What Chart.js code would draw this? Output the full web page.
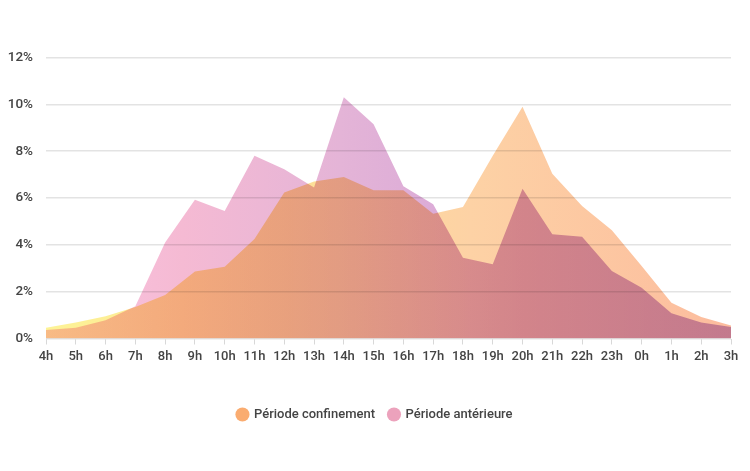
<!DOCTYPE html>
<html>
<head>
<meta charset="utf-8">
<script src="https://cdn.jsdelivr.net/npm/chart.js@4"></script>
<style>
html,body{margin:0;padding:0;background:#fff;}
#wrap{width:750px;height:471px;position:relative;}
</style>
</head>
<body>
<div id="wrap"><canvas id="c" width="750" height="471"></canvas></div>
<script>
const hours = ["4h","5h","6h","7h","8h","9h","10h","11h","12h","13h","14h","15h","16h","17h","18h","19h","20h","21h","22h","23h","0h","1h","2h","3h"];
const confinement = [0.46,0.68,0.95,1.35,1.86,2.86,3.06,4.25,6.23,6.7,6.9,6.33,6.33,5.33,5.62,7.8,9.9,7.04,5.66,4.62,3.1,1.53,0.92,0.56];
const anterieure = [0.36,0.46,0.78,1.38,4.1,5.92,5.45,7.8,7.23,6.45,10.3,9.15,6.5,5.73,3.45,3.17,6.4,4.45,4.35,2.88,2.17,1.08,0.68,0.49];
const yTicks = [0,2,4,6,8,10,12];
const seriesNames = ["Période confinement","Période antérieure"];

function gradient(stops){
  return function(ctx){
    const chart = ctx.chart;
    const a = chart.chartArea;
    if(!a) return 'rgba(0,0,0,0)';
    const g = chart.ctx.createLinearGradient(a.left,0,a.right,0);
    stops.forEach(s=>g.addColorStop(s[0],s[1]));
    return g;
  };
}
const confGrad = gradient([[0,'rgb(253,243,150)'],[0.35,'rgb(253,225,150)'],[0.62,'rgb(253,210,165)'],[1,'rgb(252,188,158)']]);
const antGrad = gradient([[0,'rgb(250,196,226)'],[0.2,'rgb(245,186,211)'],[0.43,'rgb(228,180,215)'],[0.7,'rgb(212,164,216)'],[1,'rgb(197,165,228)']]);
const legendColors = ['rgb(250,172,112)','rgb(236,162,188)'];

const multiplyPlugin = {
  id:'multiply',
  beforeDraw(chart){
    const c = chart.ctx;
    c.save(); c.fillStyle='#fff'; c.fillRect(0,0,chart.width,chart.height); c.restore();
  },
  afterLayout(chart){
    if(chart.legend){ chart.legend.left += 9.5; chart.legend.right += 9.5; }
  },
  beforeDatasetsDraw(chart){ chart.ctx.save(); chart.ctx.globalCompositeOperation='multiply'; },
  afterDatasetsDraw(chart){ chart.ctx.restore(); }
};

const font = {family:'Roboto', size:13, weight:'500'};
new Chart(document.getElementById('c'), {
  type:'line',
  data:{
    labels: hours,
    datasets:[
      {label:seriesNames[0], data:confinement, fill:'origin', backgroundColor:confGrad, borderWidth:0, pointRadius:0, tension:0},
      {label:seriesNames[1], data:anterieure, fill:'origin', backgroundColor:antGrad, borderWidth:0, pointRadius:0, tension:0}
    ]
  },
  options:{
    responsive:false,
    animation:false,
    layout:{padding:{left:0,right:19,top:57.5,bottom:40}},
    scales:{
      x:{
        offset:false,
        grid:{drawOnChartArea:false, drawTicks:true, tickLength:6, color:'#d8d8d8'},
        border:{display:false},
        ticks:{color:'#444', font:font, padding:4.5, autoSkip:false, maxRotation:0},
        afterFit(s){ s.height = 55.5; }
      },
      y:{
        min:0, max:12,
        afterBuildTicks(s){ s.ticks = yTicks.map(v=>({value:v})); },
        grid:{color:'#e3e3e3', lineWidth:1.5, drawTicks:false},
        border:{display:false},
        ticks:{color:'#444', font:{family:'Roboto', size:13.5, weight:'500'}, padding:13, callback:v=>v+'%'},
        afterFit(s){ s.width = 46; }
      }
    },
    plugins:{
      tooltip:{enabled:false},
      legend:{
        position:'bottom',
        labels:{
          usePointStyle:true, boxWidth:10, boxHeight:10, padding:14,
          color:'#444', font:font,
          generateLabels(chart){
            return chart.data.datasets.map((d,i)=>({text:d.label, fillStyle:legendColors[i], strokeStyle:legendColors[i], lineWidth:0, pointStyle:'circle', datasetIndex:i, fontColor:'#444'}));
          }
        }
      }
    }
  },
  plugins:[multiplyPlugin]
});
</script>
</body>
</html>
